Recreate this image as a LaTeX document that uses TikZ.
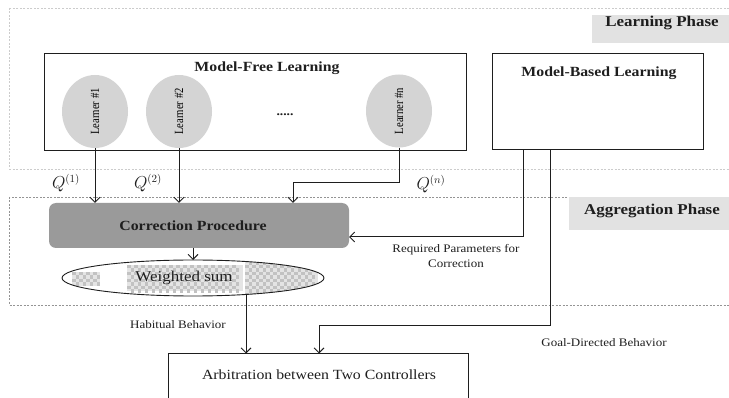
\documentclass[tikz,border=0pt]{standalone}
\usepackage{fontspec}
\usepackage{graphicx}
\setmainfont{Liberation Serif}[FakeStretch=1.13]
\newfontfamily\narrowfont{Liberation Serif}[FakeStretch=0.85]
\usetikzlibrary{shapes.geometric,arrows.meta}
\definecolor{linec}{HTML}{1E1E1E}
\definecolor{learnfill}{HTML}{D4D4D4}
\definecolor{corrfill}{HTML}{9A9A9A}
\definecolor{labelfill}{HTML}{E2E2E2}
\definecolor{checkc}{HTML}{C2C2C2}
\definecolor{checkbg}{HTML}{E4E4E4}
\tikzset{
  conn/.style={draw=linec, line width=1pt},
  arr/.style={conn, -{Straight Barb[length=5pt,width=10pt,line width=0.9pt]}},
  boxnode/.style={draw=linec, line width=1pt, rectangle, inner sep=0pt},
  learner/.style={ellipse, fill=learnfill, inner sep=0pt, minimum width=66pt, minimum height=73pt},
  phasebox/.style={line width=0.6pt, dash pattern=on 2pt off 1.5pt},
  phaselabel/.style={font=\fontsize{15}{17}\selectfont\bfseries, text=linec},
  titlefont/.style={font=\fontsize{14}{16}\selectfont\bfseries, text=linec},
  smalltext/.style={font=\fontsize{11.5}{15}\selectfont, text=linec, align=center},
  qlabel/.style={font=\fontsize{16}{18}\selectfont, text=linec},
}
\begin{document}
\begin{tikzpicture}[x=1pt,y=-1pt]
\useasboundingbox (0,0) rectangle (729,398);
% phase regions
\draw[phasebox, draw=black!20] (9,8) rectangle (740,169);
\draw[phasebox, draw=black!42] (9,197) rectangle (740,305);
\fill[labelfill] (592,15) rectangle (735,43);
\node[phaselabel] (lplabel) at (662,23) {Learning Phase};
\fill[labelfill] (569,197) rectangle (735,230);
\node[phaselabel] (aplabel) at (652,211) {Aggregation Phase};

% model-free learning
\node[boxnode, minimum width=422pt, minimum height=97pt] (mf) at (255,102.5) {};
\node[titlefont] (mftitle) at (267,68) {Model-Free Learning};
\node[learner] (l1) at (95,111.5) {\rotatebox{90}{\narrowfont\fontsize{12.5}{14}\selectfont Learner \#1}};
\node[learner] (l2) at (179,111.5) {\rotatebox{90}{\narrowfont\fontsize{12.5}{14}\selectfont Learner \#2}};
\node[learner] (ln) at (399,111) {\rotatebox{90}{\narrowfont\fontsize{12.5}{14}\selectfont Learner \#n}};
\node[font=\fontsize{12}{14}\selectfont\bfseries, text=linec] (dots) at (285,115) {.....};

% model-based learning
\node[boxnode, minimum width=211pt, minimum height=96pt] (mb) at (597.5,102) {};
\node[titlefont] (mbtitle) at (599,73) {Model-Based Learning};

% correction procedure
\node[rectangle, rounded corners=7pt, fill=corrfill, minimum width=300pt, minimum height=45pt, inner sep=0pt] (corr) at (199,225.5) {};
\node[titlefont] (corrtext) at (193,226) {Correction Procedure};

% weighted sum: checker patches clipped to the ellipse
\begin{scope}
  \clip (193,278) ellipse [x radius=131, y radius=18];
  \fill[checkbg] (72,272) rectangle (100,286);
  \fill[checkbg] (127,265) rectangle (243,291);
  \fill[checkbg] (245,258) rectangle (318,298);
  \foreach \xx in {72,79,...,95} \foreach \yy in {272,279} {
    \fill[checkc] (\xx,\yy) rectangle ++(3.5,3.5);
    \fill[checkc] (\xx+3.5,\yy+3.5) rectangle ++(3.5,3.5);}
  \foreach \xx in {127,134,...,238} \foreach \yy in {265,272,...,286} {
    \fill[checkc] (\xx,\yy) rectangle ++(3.5,3.5);
    \fill[checkc] (\xx+3.5,\yy+3.5) rectangle ++(3.5,3.5);}
  \foreach \xx in {245,252,...,313} \foreach \yy in {258,265,...,293} {
    \fill[checkc] (\xx,\yy) rectangle ++(3.5,3.5);
    \fill[checkc] (\xx+3.5,\yy+3.5) rectangle ++(3.5,3.5);}
\end{scope}
\node[ellipse, draw=linec, line width=0.9pt, minimum width=262pt, minimum height=36pt, inner sep=0pt] (ws) at (193,278) {};
\node[font=\fontsize{15}{17}\selectfont, text=linec] (wstext) at (184,278) {Weighted sum};

% arbitration
\node[boxnode, minimum width=300pt, minimum height=70pt] (arb) at (318,389) {};
\node[font=\fontsize{14}{16}\selectfont, text=linec] (arbtext) at (319,375) {Arbitration between Two Controllers};

% coordinates
\coordinate (nbend) at (293,183);
\coordinate (rp) at (349,237);
\coordinate (mbA) at (523,150);
\coordinate (mbB) at (550,150);
\coordinate (csouth) at (193,248);
\coordinate (wsnorth) at (193,260);
\coordinate (wsout) at (246,294.5);
\coordinate (gbend) at (319,326);

% connectors
\draw[arr] (l1.south) -- (l1.south |- corr.north);
\draw[arr] (l2.south) -- (l2.south |- corr.north);
\draw[arr] (ln.south) |- (nbend) -- (nbend |- corr.north);
\draw[arr] (mbA) |- (rp);
\draw[arr] (csouth) -- (wsnorth);
\draw[arr] (wsout) -- (wsout |- arb.north);
\draw[arr] (mbB) |- (gbend) -- (gbend |- arb.north);

% labels
\node[qlabel] (q1) at (66,183) {$Q^{(1)}$};
\node[qlabel] (q2) at (148,183) {$Q^{(2)}$};
\node[qlabel] (qn) at (431,184) {$Q^{(n)}$};
\node[smalltext] (rptext) at (456,256) {Required Parameters for\\Correction};
\node[smalltext] (habit) at (178,325) {Habitual Behavior};
\node[smalltext] (goal) at (604,343) {Goal-Directed Behavior};
\end{tikzpicture}
\end{document}
